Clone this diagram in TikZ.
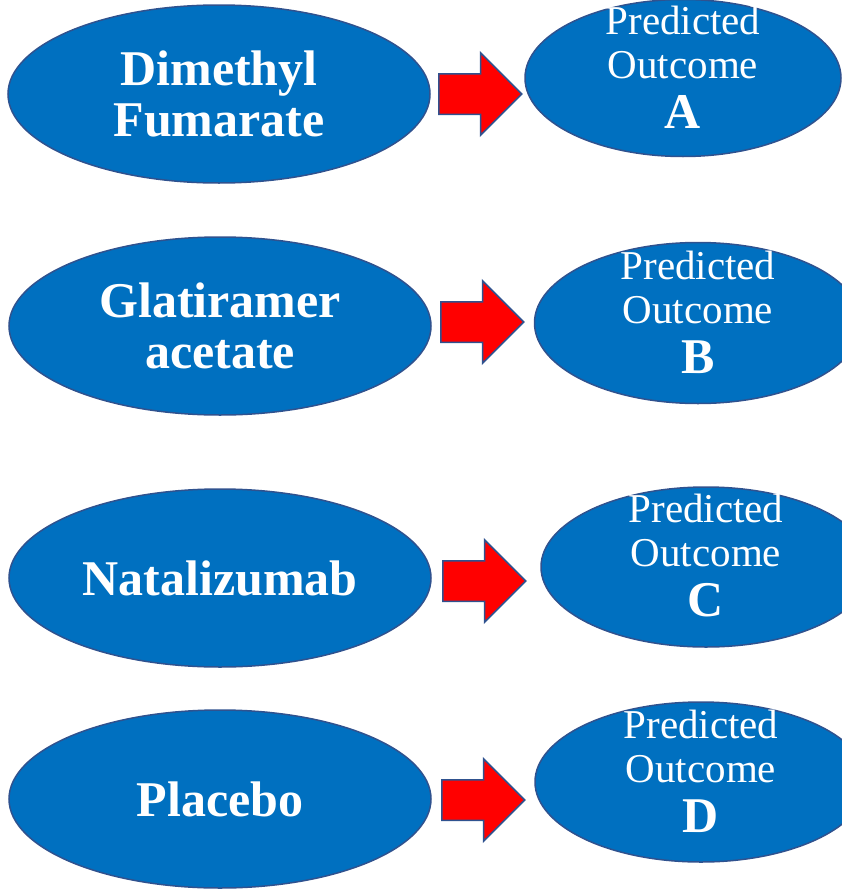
\documentclass[tikz,border=0pt]{standalone}
\usepackage{fontspec}
\setmainfont{Liberation Serif}
\usetikzlibrary{shapes.geometric,shapes.arrows}
\definecolor{drugblue}{RGB}{0,112,192}
\definecolor{rimblue}{RGB}{47,82,143}
\definecolor{arrowred}{RGB}{255,0,0}
\begin{document}
\begin{tikzpicture}[x=1pt, y=-1pt,
    drug/.style={ellipse, draw=rimblue, line width=1.5pt, fill=drugblue, text=white, inner sep=0pt, minimum width=422pt, minimum height=178pt, align=center, font=\bfseries\fontsize{50}{51}\selectfont},
    outcome/.style={ellipse, draw=rimblue, line width=1.5pt, fill=drugblue, inner sep=0pt, minimum width=316pt, minimum height=160pt},
    outtext/.style={text=white, inner sep=0pt, align=center, font=\fontsize{41}{44}\selectfont, yshift=11pt},
    goarrow/.style={single arrow, draw=rimblue, line width=1.5pt, fill=arrowred, inner xsep=0pt, inner ysep=19.5pt, minimum height=83pt, single arrow head extend=21pt, anchor=tail}]
      \useasboundingbox (0,0) rectangle (842,889);
      \node[drug] (dmf) at (219,94) {Dimethyl\\Fumarate};
      \node[drug] (ga) at (220,326) {Glatiramer\\acetate};
      \node[drug] (nat) at (220,578) {Natalizumab};
      \node[drug] (plc) at (220,799) {Placebo};
      \node[outcome, minimum height=157pt] (outA) at (683,78) {};
      \node[outcome, minimum width=327pt, minimum height=161pt] (outB) at (698,323) {};
      \node[outcome, minimum width=330pt] (outC) at (706,567) {};
      \node[outcome, minimum width=332pt] (outD) at (701,782) {};
      \node[outtext] (txtA) at (outA) {Predicted\\Outcome\\[6pt]{\bfseries\fontsize{50}{50}\selectfont A}};
      \node[outtext] (txtB) at (outB) {Predicted\\Outcome\\[6pt]{\bfseries\fontsize{50}{50}\selectfont B}};
      \node[outtext] (txtC) at (outC) {Predicted\\Outcome\\[6pt]{\bfseries\fontsize{50}{50}\selectfont C}};
      \node[outtext] (txtD) at (outD) {Predicted\\Outcome\\[6pt]{\bfseries\fontsize{50}{50}\selectfont D}};
      \node[goarrow] (arrA) at (438,94) {};
      \node[goarrow] (arrB) at (440,322) {};
      \node[goarrow] (arrC) at (442,581) {};
      \node[goarrow] (arrD) at (441,800) {};
\end{tikzpicture}
\end{document}
